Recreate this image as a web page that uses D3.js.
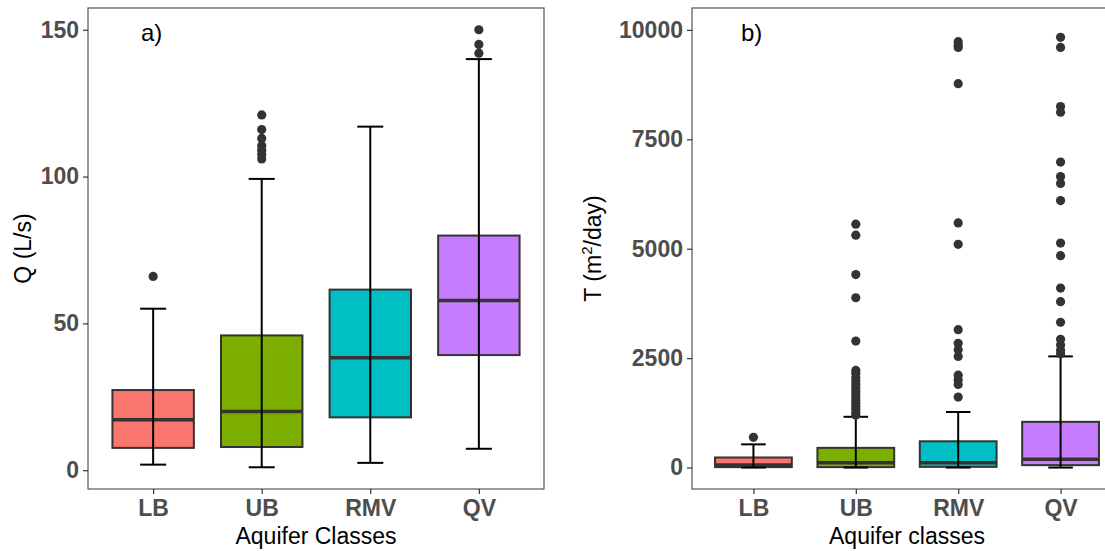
<!DOCTYPE html>
<html>
<head>
<meta charset="utf-8">
<script src="https://cdn.jsdelivr.net/npm/d3@7"></script>
<style>
  body { margin: 0; background: #fff; }
  text { font-family: "Liberation Sans", Arial, sans-serif; }
</style>
</head>
<body>
<div id="chart"></div>
<script>
// aquifer classes and ggplot default fills
const classes = ["LB", "UB", "RMV", "QV"];
const fills = ["#F8766D", "#7CAE00", "#00BFC4", "#C77CFF"];

// a) Q (L/s): whisker ends, quartiles, median, outliers
const qLow = [1.9, 1.0, 2.5, 7.3];
const qQ1 = [7.6, 7.9, 18.0, 39.2];
const qMedian = [17.2, 20.0, 38.3, 57.8];
const qQ3 = [27.3, 45.9, 61.5, 79.9];
const qHigh = [55.0, 99.2, 117.0, 140.0];
const qOutliers = [
    [66],
    [121, 116, 113, 110.5, 109, 107.5, 106],
    [],
    [150, 145, 142]
];
const qTicks = [0, 50, 100, 150];

// b) T (m2/day)
const tLow = [0, 0, 0, 0];
const tQ1 = [10, 10, 16, 55];
const tMedian = [60, 110, 107, 190];
const tQ3 = [230, 450, 600, 1045];
const tHigh = [530, 1160, 1270, 2540];
const tOutliers = [
    [690],
    [5560, 5310, 4410, 3880, 2890, 2220, 2150, 2060, 1980, 1900, 1820, 1750, 1680,
        1610, 1540, 1470, 1400, 1330, 1260, 1200],
    [9730, 9650, 9600, 8770, 5590, 5100, 3150, 2840, 2690, 2540, 2110, 2000, 1900, 1610],
    [9830, 9600, 8250, 8120, 6980, 6650, 6490, 6100, 5130, 4840, 4100, 3790, 3320,
        2930, 2800, 2680, 2600]
];
const tTicks = [0, 2500, 5000, 7500, 10000];

const svg = d3.select("#chart")
    .append("svg")
    .attr("width", 1105)
    .attr("height", 551);

function makeBoxplot(opts) {
    const { left, right, top, bottom, domain, ticks, low, q1, med, q3, high, outliers } = opts;

    const stats = classes.map((c, i) => ({
        name: c, fill: fills[i],
        low: low[i], q1: q1[i], med: med[i], q3: q3[i], high: high[i],
        out: outliers[i]
    }));

    // discrete x with 0.6 expansion either side, like ggplot
    const step = (right - left) / 4.2;
    const x = d3.scalePoint()
        .domain(classes)
        .range([left + 0.6 * step, right - 0.6 * step]);
    const y = d3.scaleLinear()
        .domain(domain)
        .range([bottom, top]);

    const boxW = step * 0.75;
    const capW = step * 0.24;

    const g = svg.append("g");

    // boxes
    const box = g.selectAll(".box")
        .data(stats)
        .join("g");
    box.append("rect")
        .attr("x", d => x(d.name) - boxW / 2)
        .attr("y", d => y(d.q3))
        .attr("width", boxW)
        .attr("height", d => y(d.q1) - y(d.q3))
        .attr("fill", d => d.fill)
        .attr("stroke", "#333333")
        .attr("stroke-width", 2);
    box.append("line")
        .attr("x1", d => x(d.name) - boxW / 2)
        .attr("x2", d => x(d.name) + boxW / 2)
        .attr("y1", d => y(d.med))
        .attr("y2", d => y(d.med))
        .attr("stroke", "#333333")
        .attr("stroke-width", 3.5);

    // error bars on top of the boxes
    box.append("line")
        .attr("x1", d => x(d.name))
        .attr("x2", d => x(d.name))
        .attr("y1", d => y(d.low))
        .attr("y2", d => y(d.high))
        .attr("stroke", "#000")
        .attr("stroke-width", 2);
    ["low", "high"].forEach(k => {
        box.append("line")
            .attr("x1", d => x(d.name) - capW / 2)
            .attr("x2", d => x(d.name) + capW / 2)
            .attr("y1", d => y(d[k]))
            .attr("y2", d => y(d[k]))
            .attr("stroke", "#000")
            .attr("stroke-width", 2);
    });

    // outliers
    box.selectAll("circle")
        .data(d => d.out.map(v => ({ name: d.name, v })))
        .join("circle")
        .attr("cx", d => x(d.name))
        .attr("cy", d => y(d.v))
        .attr("r", 4.6)
        .attr("fill", "#333333");

    // panel border
    g.append("rect")
        .attr("x", left)
        .attr("y", top)
        .attr("width", right - left)
        .attr("height", bottom - top)
        .attr("fill", "none")
        .attr("stroke", "#555")
        .attr("stroke-width", 1.2);

    // axes
    const yAxis = g.append("g")
        .attr("transform", `translate(${left},0)`)
        .call(d3.axisLeft(y).tickValues(ticks).tickSize(5).tickPadding(4).tickFormat(d3.format("d")));
    const xAxis = g.append("g")
        .attr("transform", `translate(0,${bottom})`)
        .call(d3.axisBottom(x).tickSize(5).tickPadding(4));
    [yAxis, xAxis].forEach(a => {
        a.select(".domain").remove();
        a.selectAll(".tick line").attr("stroke", "#333").attr("stroke-width", 1.2);
        a.selectAll(".tick text")
            .attr("fill", "#4D4D4D")
            .style("font-size", "23px")
            .style("font-weight", "bold");
    });
    xAxis.selectAll(".tick text").attr("dy", "0.8em");

    return { x, y, g, left, right, top, bottom };
}

const pa = makeBoxplot({
    left: 88, right: 544, top: 8, bottom: 489,
    domain: [-6.4, 157.4], ticks: qTicks,
    low: qLow, q1: qQ1, med: qMedian, q3: qQ3, high: qHigh, outliers: qOutliers
});
const pb = makeBoxplot({
    left: 692, right: 1122, top: 8, bottom: 489,
    domain: [-490, 10500], ticks: tTicks,
    low: tLow, q1: tQ1, med: tMedian, q3: tQ3, high: tHigh, outliers: tOutliers
});

// panel tags
svg.append("text").attr("x", 141).attr("y", 41).style("font-size", "24px").text("a)");
svg.append("text").attr("x", 741).attr("y", 41).style("font-size", "24px").text("b)");

// x titles
svg.append("text")
    .attr("x", (pa.left + pa.right) / 2).attr("y", 544)
    .attr("text-anchor", "middle").style("font-size", "23px")
    .text("Aquifer Classes");
svg.append("text")
    .attr("x", (pb.left + pb.right) / 2).attr("y", 544)
    .attr("text-anchor", "middle").style("font-size", "23px")
    .text("Aquifer classes");

// y titles
svg.append("text")
    .attr("transform", `translate(31,${(pa.top + pa.bottom) / 2}) rotate(-90)`)
    .attr("text-anchor", "middle").style("font-size", "23px")
    .text("Q (L/s)");
const tl = svg.append("text")
    .attr("transform", `translate(601,${(pb.top + pb.bottom) / 2}) rotate(-90)`)
    .attr("text-anchor", "middle").style("font-size", "23px");
tl.append("tspan").text("T (m");
tl.append("tspan").attr("dy", -9).style("font-size", "15px").text("2");
tl.append("tspan").attr("dy", 9).text("/day)");
</script>
</body>
</html>
